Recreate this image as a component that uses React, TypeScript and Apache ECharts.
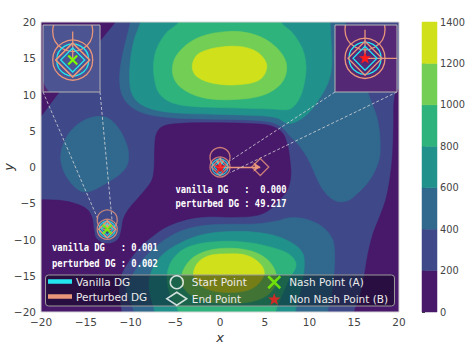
import React, { useEffect, useRef } from 'react';
import * as echarts from 'echarts';

type Pt = [number, number];

// ---------- axes / levels ----------
const AXIS_MIN = -20;
const AXIS_MAX = 20;
const AXIS_STEP = 5;
const LEVELS = [0, 200, 400, 600, 800, 1000, 1200, 1400];
const BAND_COLORS = ['#48186a', '#3f4889', '#31688e', '#21918c', '#2eb37c', '#73ce55', '#d0e11c'];

// ---------- contour regions (superlevel-set outlines) ----------
const DOMAIN: Pt[] = [[-20, -20], [20, -20], [20, 20], [-20, 20]];
const LOW_TOP_LEFT: Pt[] = [[-22, 22], [-10.5, 22], [-11.7, 20], [-13.8, 16.8], [-16.2, 13], [-18.3, 9.8], [-20, 7], [-22, 4]];
const LOW_VALLEY: Pt[] = [[-22, -4.4], [-20, -4.5], [-18, -4.6], [-16.3, -5.0], [-14.9, -5.8], [-14.3, -7.0], [-14.1, -8.6], [-13.8, -9.9], [-12.6, -10.6], [-11.4, -10.0], [-11.0, -8.6], [-10.8, -7.2], [-10.2, -5.8], [-9.3, -4.5], [-8.4, -3.2], [-7.6, -1.8], [-7.35, 0], [-7.3, 2.5], [-7.1, 4.6], [-6.4, 5.6], [-4.5, 6.0], [-1, 6.1], [3, 6.0], [5.6, 5.7], [6.9, 4.8], [7.5, 3.2], [7.8, 1], [7.9, -1.3], [7.5, -3.2], [6.6, -4.6], [5.4, -6.0], [4.0, -6.7], [1.5, -6.9], [-1.5, -6.85], [-3.6, -7.2], [-5.9, -8.2], [-7.5, -9.5], [-8.9, -11.0], [-10.2, -13.0], [-11.1, -15.1], [-11.3, -17.5], [-11.0, -20], [-10.9, -22], [-22, -22]];
const LOW_RIGHT: Pt[] = [[22, 11], [20, 10.8], [19.5, 9.6], [19.4, 6], [19.3, 2], [19.0, -1.5], [18.5, -4.6], [17.8, -7.0], [17.1, -9.2], [16.5, -12.2], [16.1, -15.2], [15.6, -18], [15.0, -20], [14.9, -22], [22, -22]];
const MID_LEFT_BLOB: Pt[] = [[-13.4, 7.0], [-12.2, 6.5], [-11.1, 4.9], [-10.4, 3.0], [-10.2, 1.5], [-10.4, 0.2], [-11.1, -0.9], [-12.4, -2.0], [-13.8, -3.0], [-15.0, -3.45], [-15.9, -3.1], [-16.9, -1.8], [-17.6, -0.1], [-17.8, 1.6], [-17.4, 3.5], [-16.5, 5.2], [-15.1, 6.5]];
const MID_UPPER: Pt[] = [[-9.8, 22], [-10.0, 20], [-10.6, 17], [-11.1, 14], [-11.2, 11.5], [-10.8, 9.6], [-9.8, 8.2], [-8.2, 7.3], [-5.5, 6.8], [-1, 6.6], [3, 6.5], [5.6, 6.2], [6.9, 5.5], [7.8, 4.3], [8.6, 3.3], [9.4, 2.0], [10.1, 0.5], [10.8, -1.5], [11.5, -3.1], [12.4, -4.3], [13.4, -4.8], [14.5, -4.5], [15.4, -3.6], [16.4, -2.3], [17.2, -0.8], [17.8, 1.2], [17.9, 3.0], [17.8, 5.0], [17.5, 7.0], [16.9, 9.0], [16.3, 11], [15.4, 13.5], [14.7, 16], [14.2, 18.5], [14.0, 20], [13.9, 22]];
const MID_LOWER: Pt[] = [[-9.7, -22], [-9.6, -20], [-10.5, -17], [-9.7, -14.7], [-8.3, -12.3], [-6.7, -10.5], [-4.5, -8.9], [-2, -8.1], [1, -7.9], [4, -7.85], [6.5, -7.4], [7.8, -7.0], [9.6, -7.2], [11.4, -8.2], [12.5, -9.8], [12.8, -11.6], [12.7, -15.2], [12.4, -18], [12.0, -20], [11.9, -22]];
const TEAL_UPPER: Pt[] = [[-8.8, 22], [-8.9, 20], [-9.6, 17.5], [-10.0, 14.8], [-10.1, 12], [-9.8, 10], [-8.9, 8.7], [-7.0, 7.8], [-4, 7.4], [0, 7.25], [4, 7.1], [6.3, 6.8], [7.6, 6.0], [8.6, 6.3], [10.0, 7.6], [11.5, 10.2], [12.3, 12.5], [12.5, 15], [12.4, 17.5], [12.3, 20], [12.2, 22]];
const TEAL_LOWER: Pt[] = [[-7.2, -22], [-7.3, -20], [-7.9, -17], [-7.8, -14.9], [-6.8, -12.6], [-5.2, -11.0], [-2.2, -9.4], [1.5, -8.9], [5.2, -9.2], [7.8, -10.3], [9.2, -11.8], [9.4, -14], [9.0, -17], [8.4, -20], [8.3, -22]];
const GREEN_UPPER: Pt[] = [[-4.4, 22], [-4.6, 20], [-6.0, 18.5], [-7.0, 16.5], [-7.4, 14.5], [-7.3, 12], [-6.7, 10], [-5.2, 8.8], [-2.5, 8.3], [0, 8.2], [3, 8.1], [6, 8.0], [7.8, 8.0], [8.8, 9.3], [9.4, 11.5], [9.6, 14], [9.2, 16.3], [8.1, 18.5], [6.8, 20], [6.6, 22]];
const GREEN_LOWER: Pt[] = [[-4.5, -22], [-4.6, -20], [-5.6, -17.5], [-5.9, -14.9], [-5.2, -12.6], [-3.5, -11.0], [-0.4, -10.3], [3, -10.4], [5.8, -11.1], [7.8, -12.1], [8.5, -13.5], [7.7, -15.5], [6.8, -18], [6.2, -20], [6.1, -22]];
const LIME_UPPER: Pt[] = [[1.1, 18.7], [4, 18.2], [6.2, 16.6], [7.4, 14.3], [7.0, 11.8], [5, 10.0], [1.5, 9.3], [-2, 9.6], [-4.4, 11.0], [-5.3, 13], [-4.8, 15.5], [-2.5, 17.8]];
const LIME_LOWER: Pt[] = [[0.8, -11.2], [3.5, -11.6], [5.4, -12.9], [6.3, -14.9], [6.0, -16.8], [4.3, -18.3], [1, -18.8], [-2.3, -18.3], [-4.0, -16.8], [-4.3, -15], [-3.3, -12.8], [-1.5, -11.6]];
const PEAK_UPPER: Pt[] = [[1.05, 16.65], [3.8, 16.1], [5.2, 14.2], [4.6, 12.2], [2.5, 11.4], [-0.5, 11.5], [-2.6, 12.5], [-3.1, 14.0], [-2.3, 15.7]];
const PEAK_LOWER: Pt[] = [[0.4, -12.0], [3.0, -12.2], [4.6, -13.5], [4.9, -15], [3.5, -16.8], [1, -17.3], [-1.5, -16.8], [-2.9, -15.2], [-2.6, -13.4], [-1.4, -12.3]];

const CONTOUR_REGIONS: { band: number; pts: Pt[]; smooth?: number }[] = [
  { band: 1, pts: DOMAIN, smooth: 0 },
  { band: 0, pts: LOW_TOP_LEFT },
  { band: 0, pts: LOW_VALLEY },
  { band: 0, pts: LOW_RIGHT },
  { band: 2, pts: MID_LEFT_BLOB },
  { band: 2, pts: MID_UPPER },
  { band: 2, pts: MID_LOWER },
  { band: 3, pts: TEAL_UPPER },
  { band: 3, pts: TEAL_LOWER },
  { band: 4, pts: GREEN_UPPER },
  { band: 4, pts: GREEN_LOWER },
  { band: 5, pts: LIME_UPPER },
  { band: 5, pts: LIME_LOWER },
  { band: 6, pts: PEAK_UPPER },
  { band: 6, pts: PEAK_LOWER },
];

// ---------- points and trajectories ----------
const NASH_A: Pt = [-12.6, -8.6];
const NON_NASH_B: Pt = [0, 0];
const VANILLA_PATHS: Pt[][] = [[NASH_A, NASH_A], [NON_NASH_B, NON_NASH_B]];
const PERTURBED_PATHS: Pt[][] = [
  [[-12.6, -7.3], NASH_A],
  [NASH_A, NASH_A],
  [[0, 1.3], NON_NASH_B],
  [NON_NASH_B, [4.5, 0]],
];
const DG_TEXT_A = ['vanilla DG   : 0.001', 'perturbed DG : 0.002'];
const DG_TEXT_B = ['vanilla DG   :  0.000', 'perturbed DG : 49.217'];

// inset zoom windows (data ranges) and the marked corners the connectors go to
const INSET_A_X: Pt = [-13.95, -11.36];
const INSET_A_Y: Pt = [-10.05, -7.01];
const INSET_B_X: Pt = [-1.36, 1.45];
const INSET_B_Y: Pt = [-1.53, 1.51];
const A_MARK_CORNERS: Pt[] = [[-13.6, -7.3], [-12.05, -7.5]];
const B_MARK_CORNERS: Pt[] = [[1.05, 0.8], [1.1, -0.8]];

// ---------- styling ----------
const CYAN = '#22e5f0';
const SALMON = '#e9967a';
const GREEN = '#7cfc00';
const RED = '#ff1a1a';
const MAIN = { left: 41, top: 22, width: 358, height: 290 };
const INSET_A = { left: 43, top: 25, width: 57, height: 67 };
const INSET_B = { left: 335, top: 25, width: 62, height: 67 };
const CBAR = { left: 422, top: 22, width: 15, height: 290 };
const R = { startP: 10, startV: 8, endP: 8.5, endV: 6, nash: 4.5, star: 6.5 };
const STAR_PATH = 'path://M0,-10L2.35,-3.24L9.51,-3.09L3.8,1.24L5.88,8.09L0,4L-5.88,8.09L-3.8,1.24L-9.51,-3.09L-2.35,-3.24Z';
const X_PATH = 'path://M0,0L10,10M10,0L0,10';

const fmt = (v: number) => (v < 0 ? '\u2212' + Math.abs(v) : String(v));

function starPts(cx: number, cy: number, r: number) {
  const pts: number[][] = [];
  for (let i = 0; i < 10; i++) {
    const rr = i % 2 === 0 ? r : r * 0.4;
    const a = -Math.PI / 2 + (i * Math.PI) / 5;
    pts.push([cx + rr * Math.cos(a), cy + rr * Math.sin(a)]);
  }
  return pts;
}
function diamondPts(cx: number, cy: number, h: number) {
  return [[cx, cy - h], [cx + h, cy], [cx, cy + h], [cx - h, cy]];
}

function contourItem(idx: number, api: any) {
  const reg = CONTOUR_REGIONS[idx];
  const color = BAND_COLORS[reg.band];
  return {
    type: 'polygon',
    shape: { points: reg.pts.map((p) => api.coord(p)), smooth: reg.smooth ?? 0.35 },
    style: { fill: color, stroke: color, lineWidth: 0.6 },
  };
}

function insetMarkers(params: any, api: any) {
  const k = 2;
  const cs = params.coordSys;
  const els: any[] = [
    { type: 'rect', shape: { x: cs.x, y: cs.y, width: cs.width, height: cs.height }, style: { fill: 'rgba(255,255,255,0.07)' } },
  ];
  const c = (p: Pt) => api.coord(p);
  PERTURBED_PATHS.forEach((path) => {
    els.push({ type: 'polyline', shape: { points: path.map(c) }, style: { stroke: SALMON, lineWidth: 1.3, fill: 'none' } });
  });
  PERTURBED_PATHS.forEach((path) => {
    const p = c(path[0]);
    els.push({ type: 'circle', shape: { cx: p[0], cy: p[1], r: R.startP * k }, style: { fill: 'none', stroke: SALMON, lineWidth: 1.3 } });
  });
  VANILLA_PATHS.forEach((path) => {
    const p = c(path[0]);
    els.push({ type: 'circle', shape: { cx: p[0], cy: p[1], r: R.startV * k }, style: { fill: 'none', stroke: CYAN, lineWidth: 1.3 } });
  });
  PERTURBED_PATHS.forEach((path) => {
    const p = c(path[path.length - 1]);
    els.push({ type: 'polygon', shape: { points: diamondPts(p[0], p[1], R.endP * k) }, style: { fill: 'none', stroke: SALMON, lineWidth: 1.3 } });
  });
  VANILLA_PATHS.forEach((path) => {
    const p = c(path[path.length - 1]);
    els.push({ type: 'polygon', shape: { points: diamondPts(p[0], p[1], R.endV * k) }, style: { fill: 'none', stroke: CYAN, lineWidth: 1.3 } });
  });
  const a = c(NASH_A);
  const h = R.nash;
  els.push({ type: 'line', shape: { x1: a[0] - h, y1: a[1] - h, x2: a[0] + h, y2: a[1] + h }, style: { stroke: GREEN, lineWidth: 2.2 } });
  els.push({ type: 'line', shape: { x1: a[0] - h, y1: a[1] + h, x2: a[0] + h, y2: a[1] - h }, style: { stroke: GREEN, lineWidth: 2.2 } });
  const b = c(NON_NASH_B);
  els.push({ type: 'polygon', shape: { points: starPts(b[0], b[1], R.star) }, style: { fill: RED } });
  return { type: 'group', children: els };
}

function hiddenAxis(gridIndex: number, range: Pt) {
  return { gridIndex, type: 'value', min: range[0], max: range[1], show: false, splitLine: { show: false } };
}

const labelStyle = { fontSize: 10.5, color: '#444', fontFamily: 'DejaVu Sans' };
const gridBase = { containLabel: false, outerBoundsMode: 'none' };

function buildOption(): any {
  const startData = [
    ...PERTURBED_PATHS.map((p) => ({ value: p[0], symbolSize: R.startP * 2, itemStyle: { color: 'rgba(0,0,0,0)', borderColor: SALMON, borderWidth: 1.3 } })),
    ...VANILLA_PATHS.map((p) => ({ value: p[0], symbolSize: R.startV * 2, itemStyle: { color: 'rgba(0,0,0,0)', borderColor: CYAN, borderWidth: 1.3 } })),
  ];
  const endData = [
    ...PERTURBED_PATHS.map((p) => ({ value: p[p.length - 1], symbolSize: R.endP * 2, itemStyle: { color: 'rgba(0,0,0,0)', borderColor: SALMON, borderWidth: 1.3 } })),
    ...VANILLA_PATHS.map((p) => ({ value: p[p.length - 1], symbolSize: R.endV * 2, itemStyle: { color: 'rgba(0,0,0,0)', borderColor: CYAN, borderWidth: 1.3 } })),
  ];
  const movingPerturbed = PERTURBED_PATHS.filter((p) => p[0][0] !== p[1][0] || p[0][1] !== p[1][1]);
  const legendText = { color: '#ececec', fontSize: 10.5, fontFamily: 'DejaVu Sans', lineHeight: 13 };

  return {
    animation: false,
    backgroundColor: '#ffffff',
    grid: [
      { ...gridBase, ...MAIN },
      { ...gridBase, ...INSET_A },
      { ...gridBase, ...INSET_B },
      { ...gridBase, ...CBAR },
    ],
    xAxis: [
      {
        gridIndex: 0, type: 'value', min: AXIS_MIN, max: AXIS_MAX, interval: AXIS_STEP,
        name: 'x', nameLocation: 'middle', nameGap: 19, nameMoveOverlap: false,
        nameTextStyle: { fontStyle: 'italic', fontSize: 13, color: '#333', fontFamily: 'DejaVu Sans' },
        axisLine: { show: false }, axisTick: { show: false }, splitLine: { show: false },
        axisLabel: { ...labelStyle, margin: 4, formatter: fmt },
      },
      hiddenAxis(1, INSET_A_X),
      hiddenAxis(2, INSET_B_X),
      hiddenAxis(3, [0, 1]),
    ],
    yAxis: [
      {
        gridIndex: 0, type: 'value', min: AXIS_MIN, max: AXIS_MAX, interval: AXIS_STEP,
        name: 'y', nameLocation: 'middle', nameGap: 26.5, nameRotate: 90, nameMoveOverlap: false,
        nameTextStyle: { fontStyle: 'italic', fontSize: 13, color: '#333', fontFamily: 'DejaVu Sans' },
        axisLine: { show: false }, axisTick: { show: false }, splitLine: { show: false },
        axisLabel: { ...labelStyle, margin: 5, formatter: fmt },
      },
      hiddenAxis(1, INSET_A_Y),
      hiddenAxis(2, INSET_B_Y),
      {
        gridIndex: 3, type: 'value', min: LEVELS[0], max: LEVELS[LEVELS.length - 1], interval: 200, position: 'right',
        axisLine: { show: false }, splitLine: { show: false },
        axisTick: { show: true, length: 3, lineStyle: { color: '#444' } },
        axisLabel: { ...labelStyle, fontSize: 9.8, margin: 3, formatter: (v: number) => String(v) },
      },
    ],
    legend: [
      {
        left: 48, top: 275, orient: 'vertical', itemWidth: 22, itemHeight: 2.5, itemGap: 2, padding: 0,
        selectedMode: false, textStyle: legendText,
        data: [
          { name: 'Vanilla DG', icon: 'rect', itemStyle: { color: CYAN } },
          { name: 'Perturbed DG', icon: 'rect', itemStyle: { color: SALMON } },
        ],
      },
      {
        left: 166, top: 275, orient: 'vertical', itemWidth: 20, itemHeight: 13, itemGap: 2, padding: 0,
        selectedMode: false, textStyle: legendText,
        data: [
          { name: 'Start Point', icon: 'circle', itemStyle: { color: 'rgba(0,0,0,0)', borderColor: '#ffffff', borderWidth: 1.5 } },
          { name: 'End Point', icon: 'diamond', itemStyle: { color: 'rgba(0,0,0,0)', borderColor: '#ffffff', borderWidth: 1.5 } },
        ],
      },
      {
        left: 267, top: 275, orient: 'vertical', itemWidth: 20, itemHeight: 12, itemGap: 3, padding: 0,
        selectedMode: false, textStyle: legendText,
        data: [
          { name: 'Nash Point (A)', icon: X_PATH, itemStyle: { color: 'rgba(0,0,0,0)', borderColor: GREEN, borderWidth: 2.5 } },
          { name: 'Non Nash Point (B)', icon: STAR_PATH, itemStyle: { color: RED, borderWidth: 0 } },
        ],
      },
    ],
    series: [
      {
        type: 'custom', xAxisIndex: 0, yAxisIndex: 0, silent: true, clip: true, z: 1,
        data: CONTOUR_REGIONS.map((_, i) => [i]),
        renderItem: (params: any, api: any) => contourItem(params.dataIndex, api),
      },
      {
        type: 'custom', xAxisIndex: 1, yAxisIndex: 1, silent: true, clip: true, z: 5,
        data: CONTOUR_REGIONS.map((_, i) => [i]),
        renderItem: (params: any, api: any) => contourItem(params.dataIndex, api),
      },
      {
        type: 'custom', xAxisIndex: 2, yAxisIndex: 2, silent: true, clip: true, z: 5,
        data: CONTOUR_REGIONS.map((_, i) => [i]),
        renderItem: (params: any, api: any) => contourItem(params.dataIndex, api),
      },
      {
        type: 'custom', xAxisIndex: 1, yAxisIndex: 1, silent: true, clip: true, z: 6,
        data: [[0]], renderItem: insetMarkers,
      },
      {
        type: 'custom', xAxisIndex: 2, yAxisIndex: 2, silent: true, clip: true, z: 6,
        data: [[0]], renderItem: insetMarkers,
      },
      {
        type: 'custom', xAxisIndex: 3, yAxisIndex: 3, silent: true, z: 2,
        data: BAND_COLORS.map((_, i) => [i]),
        renderItem: (params: any, api: any) => {
          const i = params.dataIndex;
          const p1 = api.coord([0, LEVELS[i + 1]]);
          const p2 = api.coord([1, LEVELS[i]]);
          return {
            type: 'rect',
            shape: { x: p1[0], y: p1[1], width: p2[0] - p1[0], height: p2[1] - p1[1] },
            style: { fill: BAND_COLORS[i], stroke: BAND_COLORS[i], lineWidth: 0.5 },
          };
        },
      },
      {
        name: 'Vanilla DG', type: 'lines', coordinateSystem: 'cartesian2d', xAxisIndex: 0, yAxisIndex: 0, z: 3,
        data: VANILLA_PATHS.map((p) => ({ coords: p })),
        lineStyle: { color: CYAN, width: 1.3, opacity: 1 },
      },
      {
        name: 'Perturbed DG', type: 'lines', coordinateSystem: 'cartesian2d', xAxisIndex: 0, yAxisIndex: 0, z: 3,
        data: movingPerturbed.map((p) => ({ coords: p })),
        symbol: ['none', 'arrow'], symbolSize: 7,
        lineStyle: { color: SALMON, width: 1.3, opacity: 1 },
      },
      {
        name: 'Start Point', type: 'scatter', xAxisIndex: 0, yAxisIndex: 0, symbol: 'circle', z: 4,
        data: startData, silent: true,
      },
      {
        name: 'End Point', type: 'scatter', xAxisIndex: 0, yAxisIndex: 0, symbol: 'diamond', z: 4,
        data: endData, silent: true,
      },
      {
        name: 'Nash Point (A)', type: 'scatter', xAxisIndex: 0, yAxisIndex: 0, symbol: X_PATH, symbolSize: R.nash * 2, z: 5,
        itemStyle: { color: 'rgba(0,0,0,0)', borderColor: GREEN, borderWidth: 2.2 },
        data: [NASH_A], silent: true,
      },
      {
        name: 'Non Nash Point (B)', type: 'scatter', xAxisIndex: 0, yAxisIndex: 0, symbol: STAR_PATH, symbolSize: R.star * 2, z: 5,
        itemStyle: { color: RED },
        data: [NON_NASH_B], silent: true,
      },
    ],
  };
}

function buildGraphic(toPx: (p: Pt) => number[]) {
  const textFont = 'bold 10px "DejaVu Sans Mono"';
  const txt = (id: string, x: number, y: number, text: string) => ({
    id, type: 'text', z: 10, silent: true, x, y, scaleX: 0.88,
    style: { text, font: textFont, fill: '#ffffff', verticalAlign: 'middle', align: 'left' },
  });
  const frame = (id: string, g: { left: number; top: number; width: number; height: number }, color: string, z: number) => ({
    id, type: 'rect', z, silent: true,
    shape: { x: g.left, y: g.top, width: g.width, height: g.height },
    style: { fill: 'none', stroke: color, lineWidth: 1 },
  });
  const conn = (id: string, x1: number, y1: number, p: Pt) => {
    const q = toPx(p);
    return {
      id, type: 'line', z: 3, silent: true,
      shape: { x1, y1, x2: q[0], y2: q[1] },
      style: { stroke: '#dcdcdc', lineWidth: 0.9, lineDash: [3, 2], opacity: 0.85 },
    };
  };
  const aBottom = INSET_A.top + INSET_A.height;
  const bBottom = INSET_B.top + INSET_B.height;
  return [
    frame('mainFrame', MAIN, '#d4d4d4', 3),
    {
      id: 'legendBg', type: 'rect', z: 3, silent: true,
      shape: { x: 45.5, y: 275, width: 349, height: 31, r: 3 },
      style: { fill: 'rgba(5,5,15,0.45)', stroke: '#9a9a9a', lineWidth: 1 },
    },
    frame('insetAFrame', INSET_A, '#b5b5b5', 8),
    frame('insetBFrame', INSET_B, '#b5b5b5', 8),
    conn('cA1', INSET_A.left, aBottom, A_MARK_CORNERS[0]),
    conn('cA2', INSET_A.left + INSET_A.width, aBottom, A_MARK_CORNERS[1]),
    conn('cB1', INSET_B.left, bBottom, B_MARK_CORNERS[0]),
    conn('cB2', INSET_B.left + INSET_B.width, bBottom, B_MARK_CORNERS[1]),
    txt('tB1', 175.5, 189, DG_TEXT_B[0]),
    txt('tB2', 175.5, 203.5, DG_TEXT_B[1]),
    txt('tA1', 52, 247, DG_TEXT_A[0]),
    txt('tA2', 52, 263, DG_TEXT_A[1]),
  ];
}

export default function App() {
  const ref = useRef<HTMLDivElement>(null);
  useEffect(() => {
    if (!ref.current) return;
    const chart = echarts.init(ref.current, null, { renderer: 'svg' });
    chart.setOption(buildOption());
    const toPx = (p: Pt) => chart.convertToPixel({ gridIndex: 0 }, p) as number[];
    chart.setOption({ graphic: buildGraphic(toPx) });
    return () => chart.dispose();
  }, []);
  return (
    <div
      ref={ref}
      style={{ position: 'fixed', left: 0, top: 0, width: 465, height: 356, background: '#fff' }}
    />
  );
}
